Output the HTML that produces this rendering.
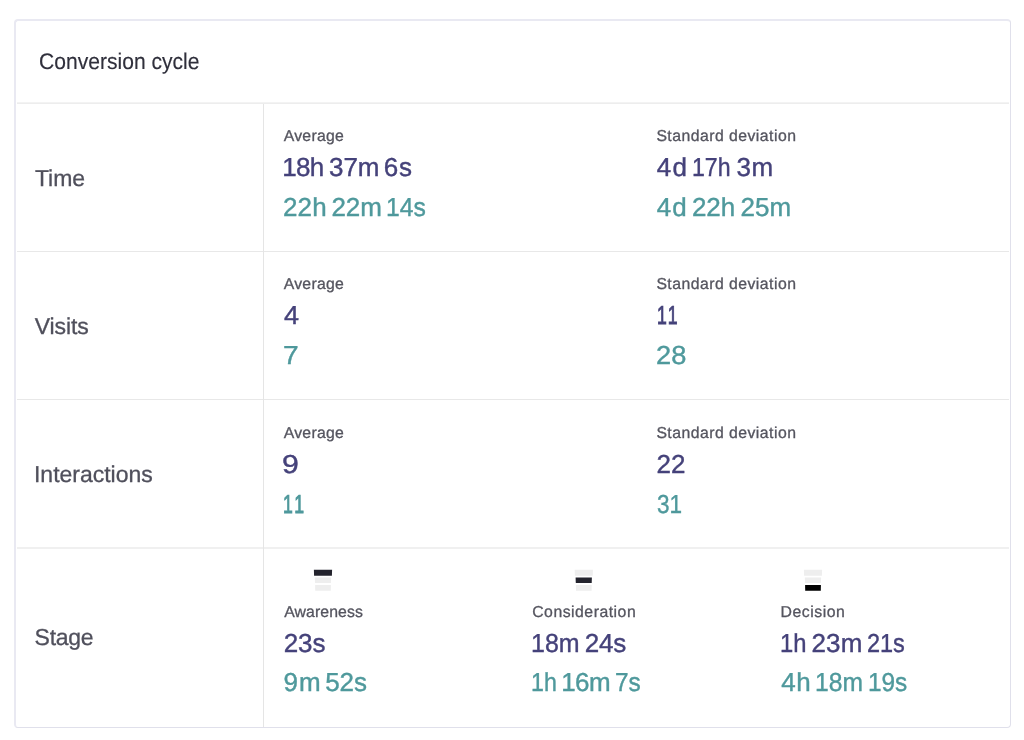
<!DOCTYPE html>
<html lang="en">
<head>
<meta charset="utf-8">
<title>Conversion cycle</title>
<style>
*{box-sizing:border-box;margin:0;padding:0}
html,body{width:1024px;height:740px;background:#fff;overflow:hidden}
body{font-family:"Liberation Sans",sans-serif;color:#2b2b37;position:relative;text-rendering:geometricPrecision}
span{display:inline-block;white-space:nowrap;transform-origin:0 50%}
.card{position:absolute;left:14px;top:19px;width:997px;height:709px;border:1px solid #e0e0eb;border-width:2px 1px 1px 2px;border-top-color:#e9e9f2;border-left-color:#e9e9f2;border-radius:4px;background:#fff;padding:0 1px}
.card::after{content:"";position:absolute;left:247px;top:83px;bottom:0;width:1px;background:#e5e5e5}
.header{height:83px;border-bottom:1px solid #ededed;box-shadow:inset 0 -1px 0 #f3f3f3;padding:28px 0 0 23px;font-size:22.6px;line-height:26px;color:#30303c;-webkit-text-stroke:0.15px #30303c;white-space:nowrap}
.row{display:flex;height:148px;border-bottom:1px solid #e8e8e8}
.row.r3{height:149px;border-bottom:2px solid #f0f0f0}
.row.last{height:178px;border-bottom:0}
.name{width:247px;flex:none;padding:61px 0 0 18px;font-size:23px;line-height:26px;color:#50505c;-webkit-text-stroke:0.3px #50505c;white-space:nowrap}
.r3 .name{padding-top:61px}
.last .name{padding-top:75px}
.metrics{flex:1;display:flex;padding:0 0 0 20px}
.metric{flex:none;width:373px;white-space:nowrap}
.last .metric{width:248.67px}
.label{font-size:15.8px;line-height:17px;color:#55555f;-webkit-text-stroke:0.3px #55555f;margin-top:24px}
.v{font-size:26px;line-height:28px;word-spacing:-2.5px}
.v1{color:#45427a;-webkit-text-stroke:0.4px #45427a;margin-top:8px}
.v2{color:#4f999c;-webkit-text-stroke:0.4px #4f999c;margin-top:12px}
.r3 .label{margin-top:25px}
.stage{display:block}
.stage svg{display:block;margin-top:20px}
.stage .label{margin-top:12px;text-align:left}
.last .v1{margin-top:8px}
.last .v2{margin-top:11px}
</style>
</head>
<body>
<div class="card">
  <div class="header"><span style="margin-left:-0.83px;transform:scaleX(0.933)">Conversion cycle</span></div>
  <div class="row">
    <div class="name"><span style="letter-spacing:-0.03px;margin-left:-0.11px">Time</span></div>
    <div class="metrics">
      <div class="metric"><div class="label"><span style="letter-spacing:0.26px;margin-left:-0.32px">Average</span></div><div class="v v1"><span style="letter-spacing:-0.79px;margin-left:-1.67px">18h</span> <span style="letter-spacing:-0.02px;margin-left:0.88px">37m</span> <span style="letter-spacing:0.9px;margin-left:-0.54px">6s</span></div><div class="v v2"><span style="letter-spacing:0.08px;margin-left:-0.93px">22h</span> <span style="letter-spacing:-0.15px;margin-left:0.11px">22m</span> <span style="margin-left:-0.5px;transform:scaleX(0.950)">14s</span></div></div>
      <div class="metric"><div class="label"><span style="letter-spacing:0.46px;margin-left:-0.63px">Standard deviation</span></div><div class="v v1"><span style="letter-spacing:1.14px;margin-left:-0.23px">4d</span> <span style="margin-left:-0.97px;transform:scaleX(0.890)">17h</span> <span style="letter-spacing:0.61px;margin-left:-3.49px">3m</span></div><div class="v v2"><span style="letter-spacing:1.02px;margin-left:-0.16px">4d</span> <span style="letter-spacing:-0.16px;margin-left:-0.51px">22h</span> <span style="letter-spacing:-0.03px;margin-left:0.84px">25m</span></div></div>
    </div>
  </div>
  <div class="row">
    <div class="name"><span style="letter-spacing:-0.13px;margin-left:-0.19px">Visits</span></div>
    <div class="metrics">
      <div class="metric"><div class="label"><span style="letter-spacing:0.26px;margin-left:-0.32px">Average</span></div><div class="v v1"><span style="margin-left:-0.37px;transform:scaleX(1.038)">4</span></div><div class="v v2"><span style="margin-left:-1.3px;transform:scaleX(1.082)">7</span></div></div>
      <div class="metric"><div class="label"><span style="letter-spacing:0.46px;margin-left:-0.63px">Standard deviation</span></div><div class="v v1"><span style="letter-spacing:3.42px;margin-left:-0.44px;transform:scaleX(0.680);-webkit-text-stroke-width:0.9px">11</span></div><div class="v v2"><span style="margin-left:-0.62px;transform:scaleX(1.048)">28</span></div></div>
    </div>
  </div>
  <div class="row r3">
    <div class="name"><span style="letter-spacing:-0.02px;margin-left:-1.01px">Interactions</span></div>
    <div class="metrics">
      <div class="metric"><div class="label"><span style="letter-spacing:0.26px;margin-left:-0.32px">Average</span></div><div class="v v1"><span style="margin-left:-1.56px;transform:scaleX(1.160)">9</span></div><div class="v v2"><span style="letter-spacing:4.14px;margin-left:-0.91px;transform:scaleX(0.680);-webkit-text-stroke-width:0.9px">11</span></div></div>
      <div class="metric"><div class="label"><span style="letter-spacing:0.46px;margin-left:-0.63px">Standard deviation</span></div><div class="v v1"><span style="margin-left:-0.47px">22</span></div><div class="v v2"><span style="margin-left:-0.48px;transform:scaleX(0.867)">31</span></div></div>
    </div>
  </div>
  <div class="row last">
    <div class="name"><span style="letter-spacing:-0.28px;margin-left:-0.43px">Stage</span></div>
    <div class="metrics">
      <div class="metric"><div class="stage"><svg class="funnel" style="margin-left:29px" width="21" height="23" viewBox="0 0 21 23" aria-hidden="true"><path d="M0.9 0.7H19.1L18.9 6.7H1.1Z" fill="#23232d"/><path d="M1.8 8.4H18.1L17.9 14.1H2Z" fill="#eeeeee"/><path d="M2.1 16H17.9L17.8 21.7H2.2Z" fill="#eeeeee"/></svg><div class="label"><span style="letter-spacing:0.1px;margin-left:0.16px">Awareness</span></div></div><div class="v v1"><span style="letter-spacing:0.02px;margin-left:-0.36px">23s</span></div><div class="v v2"><span style="letter-spacing:1.07px;margin-left:-0.44px">9m</span> <span style="letter-spacing:-0.13px;margin-left:-1.3px">52s</span></div></div>
      <div class="metric"><div class="stage"><svg class="funnel" style="margin-left:40.33px" width="21" height="23" viewBox="0 0 21 23" aria-hidden="true"><path d="M1.7 0.7H19.9L19.7 6.7H1.9Z" fill="#eeeeee"/><path d="M2.6 8.4H18.9L18.7 14.1H2.8Z" fill="#23232d"/><path d="M2.9 16H18.7L18.6 21.7H3Z" fill="#eeeeee"/></svg><div class="label"><span style="letter-spacing:0.5px;margin-left:-0.47px">Consideration</span></div></div><div class="v v1"><span style="margin-left:-1.28px;transform:scaleX(0.960)">18m</span> <span style="letter-spacing:-0.11px;margin-left:-2.09px">24s</span></div><div class="v v2"><span style="margin-left:-1.18px;transform:scaleX(0.892)">1h</span> <span style="letter-spacing:-0.66px;margin-left:-3.86px">16m</span> <span style="margin-left:0.19px;transform:scaleX(0.938)">7s</span></div></div>
      <div class="metric"><div class="stage"><svg class="funnel" style="margin-left:21.67px" width="21" height="23" viewBox="0 0 21 23" aria-hidden="true"><path d="M0.9 0.7H19.1L18.9 6.7H1.1Z" fill="#eeeeee"/><path d="M1.8 8.4H18.1L17.9 14.1H2Z" fill="#eeeeee"/><path d="M2.1 16H17.9L17.8 21.7H2.2Z" fill="#000000"/></svg><div class="label"><span style="letter-spacing:0.55px;margin-left:-0.85px">Decision</span></div></div><div class="v v1"><span style="margin-left:-1.04px;transform:scaleX(0.915)">1h</span> <span style="letter-spacing:0.16px;margin-left:-2.51px">23m</span> <span style="margin-left:-0.01px;transform:scaleX(0.903)">21s</span></div><div class="v v2"><span style="letter-spacing:0.61px;margin-left:-0.1px">4h</span> <span style="margin-left:-1.11px;transform:scaleX(0.947)">18m</span> <span style="margin-left:-2.63px;transform:scaleX(0.937)">19s</span></div></div>
    </div>
  </div>
</div>
</body>
</html>
